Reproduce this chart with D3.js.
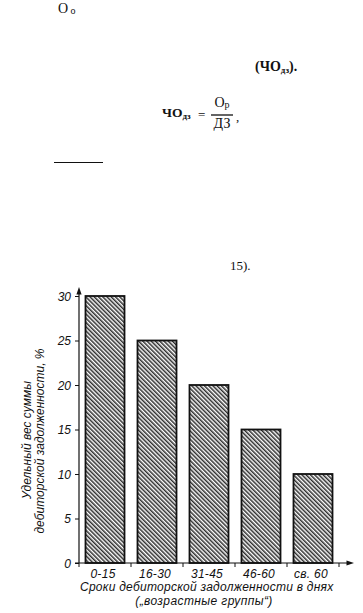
<!DOCTYPE html>
<html>
<head>
<meta charset="utf-8">
<script src="https://cdn.jsdelivr.net/npm/d3@7"></script>
<style>
  html, body { margin: 0; padding: 0; background: #fff; }
  svg { display: block; }
</style>
</head>
<body>
<svg id="chart" width="363" height="613"></svg>
<script>
// ---- data ----
const categories = ["0-15", "16-30", "31-45", "46-60", "св. 60"];
const shares = [30, 25, 20, 15, 10];
const yTicks = [0, 5, 10, 15, 20, 25, 30];
const xTitle1 = "Сроки дебиторской задолженности в днях";
const xTitle2 = "(„возрастные группы“)";
const yTitle1 = "Удельный вес суммы";
const yTitle2 = "дебиторской задолженности, %";

const svg = d3.select("#chart");
const serif = "'Liberation Serif', 'Times New Roman', serif";
const sans = "'Liberation Sans', Arial, sans-serif";

// ---- surrounding page text fragments ----
const pageText = svg.append("g").attr("font-family", serif).attr("fill", "#111");
pageText.append("text").attr("x", 58).attr("y", 12.5).attr("font-size", 14).attr("textLength", 11.5).text("О");
pageText.append("text").attr("x", 70.5).attr("y", 13.5).attr("font-size", 10).text("о");

const t2 = pageText.append("text").attr("x", 255).attr("y", 71).attr("font-size", 14).attr("font-weight", "bold");
t2.append("tspan").text("(ЧО");
t2.append("tspan").attr("font-size", 9).attr("dy", 2).text("дз");
t2.append("tspan").attr("dy", -2).text(").");

const f = pageText.append("g").attr("font-weight", "bold");
const f1 = f.append("text").attr("x", 162).attr("y", 117).attr("font-size", 13.5);
f1.append("tspan").text("ЧО");
f1.append("tspan").attr("font-size", 9).attr("dy", 1.5).text("дз");
f.append("text").attr("x", 198).attr("y", 119).attr("font-size", 13).attr("font-weight", "normal").text("=");
const num = f.append("text").attr("x", 222).attr("y", 107).attr("font-size", 14).attr("font-weight", "normal").attr("text-anchor", "middle");
num.append("tspan").text("О");
num.append("tspan").attr("font-size", 10).attr("dy", 1).text("р");
f.append("text").attr("x", 222).attr("y", 128).attr("font-size", 14).attr("font-weight", "normal").attr("text-anchor", "middle").text("ДЗ");
svg.append("line").attr("x1", 211).attr("x2", 233).attr("y1", 115).attr("y2", 115).attr("stroke", "#111").attr("stroke-width", 1.3);
pageText.append("text").attr("x", 236).attr("y", 121).attr("font-size", 13).text(",");

svg.append("line").attr("x1", 54).attr("x2", 103).attr("y1", 162.5).attr("y2", 162.5).attr("stroke", "#111").attr("stroke-width", 1);
pageText.append("text").attr("x", 230).attr("y", 270).attr("font-size", 13).text("15).");

// ---- chart ----
const x = d3.scaleBand().domain(categories).range([79, 339]).paddingInner(0.25).paddingOuter(0.125);
const y = d3.scaleLinear().domain([0, 30]).range([563, 296]);

const defs = svg.append("defs");
const pat = defs.append("pattern")
  .attr("id", "hatch").attr("patternUnits", "userSpaceOnUse")
  .attr("width", 3.0).attr("height", 10)
  .attr("patternTransform", "rotate(-45)");
pat.append("line").attr("x1", 0.8).attr("x2", 0.8).attr("y1", 0).attr("y2", 10)
  .attr("stroke", "#111").attr("stroke-width", 1.35);

svg.append("g").selectAll("rect").data(shares).join("rect")
  .attr("x", (d, i) => x(categories[i]))
  .attr("y", d => y(d))
  .attr("width", x.bandwidth())
  .attr("height", d => y(0) - y(d))
  .attr("fill", "url(#hatch)")
  .attr("stroke", "#111").attr("stroke-width", 1.8);

// y axis
const yAxis = svg.append("g").attr("transform", `translate(79,0)`)
  .call(d3.axisLeft(y).tickValues(yTicks).tickSize(4).tickPadding(4));
yAxis.select(".domain").remove();
yAxis.selectAll("line").attr("stroke", "#111").attr("stroke-width", 1);
yAxis.selectAll("text").attr("font-family", sans).attr("font-style", "italic").attr("font-size", 12).attr("fill", "#111")
  .attr("dy", "0.36em");

svg.append("line").attr("x1", 79).attr("x2", 79).attr("y1", y(0)).attr("y2", 293)
  .attr("stroke", "#111").attr("stroke-width", 1.2);
svg.append("path").attr("d", "M79,287 L81.6,294.5 L76.4,294.5 Z").attr("fill", "#111");

// x axis
const xAxis = svg.append("g").attr("transform", `translate(0,${y(0)})`)
  .call(d3.axisBottom(x).tickSize(0).tickPadding(6));
xAxis.select(".domain").remove();
xAxis.selectAll("text").attr("font-family", sans).attr("font-style", "italic").attr("font-size", 12).attr("fill", "#111")
  .attr("letter-spacing", 0.3).attr("dx", -2);

const gap = (x.step() - x.bandwidth()) / 2;
const bounds = categories.map(c => x(c) - gap).concat([x(categories[categories.length - 1]) + x.bandwidth() + gap]);
svg.append("g").selectAll("line").data(bounds).join("line")
  .attr("x1", d => d).attr("x2", d => d).attr("y1", y(0)).attr("y2", y(0) + 4)
  .attr("stroke", "#111").attr("stroke-width", 1);

svg.append("line").attr("x1", 75).attr("x2", 348).attr("y1", y(0)).attr("y2", y(0))
  .attr("stroke", "#111").attr("stroke-width", 1.2);
svg.append("path").attr("d", `M354,${y(0)} L346.5,${y(0) - 2.6} L346.5,${y(0) + 2.6} Z`).attr("fill", "#111");

// titles
const tg = svg.append("g").attr("font-family", sans).attr("font-style", "italic").attr("font-size", 12).attr("fill", "#111");
tg.append("text").attr("x", 80).attr("y", 591).attr("letter-spacing", 0.25).text(xTitle1);
tg.append("text").attr("x", 204).attr("y", 605).attr("text-anchor", "middle").attr("letter-spacing", 0.4).text(xTitle2);
tg.append("text").attr("transform", "translate(31,440) rotate(-90)").attr("text-anchor", "middle").text(yTitle1);
tg.append("text").attr("transform", "translate(44,441) rotate(-90)").attr("text-anchor", "middle").text(yTitle2);
</script>
</body>
</html>
